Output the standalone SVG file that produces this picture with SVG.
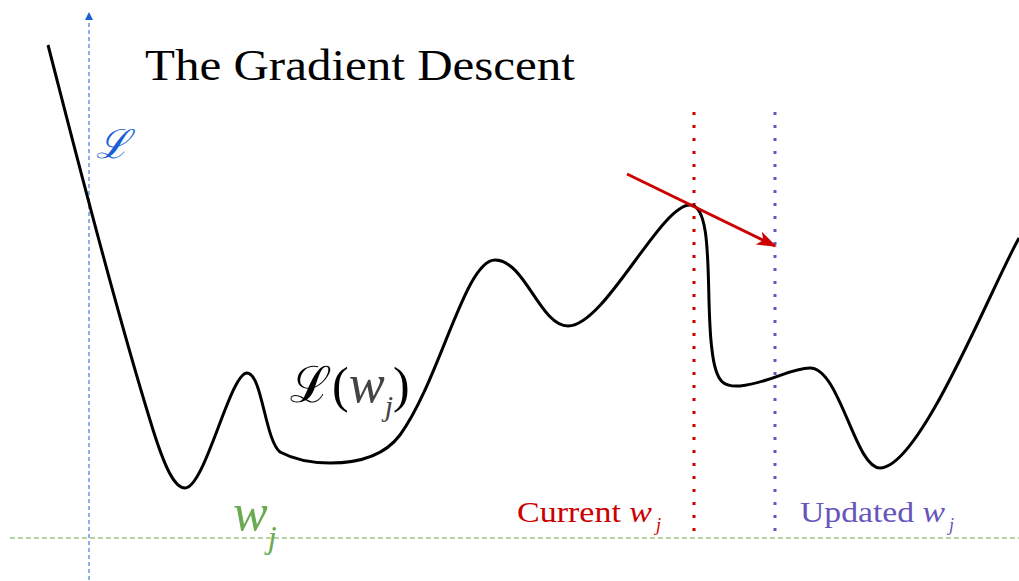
<svg xmlns="http://www.w3.org/2000/svg" width="1019" height="581" viewBox="0 0 1019 581">
<style>
.serif{font-family:"Liberation Serif","DejaVu Serif",serif}
.it{font-style:italic}
</style>
<defs>
<marker id="blueHead" viewBox="0 0 8 8" refX="6" refY="4" markerWidth="8" markerHeight="8" orient="auto" markerUnits="userSpaceOnUse">
<path d="M0,0 L8,4 L0,8 Z" fill="#1a5fd6"/>
</marker>
<marker id="redHead" viewBox="0 0 20 14" refX="18" refY="7" markerWidth="20" markerHeight="14" orient="auto" markerUnits="userSpaceOnUse">
<path d="M0,0 L20,7 L0,14 L5,7 Z" fill="#cc0000"/>
</marker>
</defs>
<rect width="1019" height="581" fill="#fff"/>
<g id="axes">
<line x1="89" y1="580" x2="89" y2="14" stroke="#1a5fd6" stroke-width="1" stroke-dasharray="4,3" marker-end="url(#blueHead)"/>
<line x1="10" y1="538" x2="1019" y2="538" stroke="#6aaa50" stroke-width="1" stroke-dasharray="5,3"/>
</g>
<g id="markers">
<line x1="694" y1="112" x2="694" y2="538" stroke="#cc0000" stroke-width="3" stroke-dasharray="3,10"/>
<line x1="775" y1="112" x2="775" y2="538" stroke="#6655bb" stroke-width="3" stroke-dasharray="3,10"/>
</g>
<g id="curve">
<path d="M48,45 C70,130 110,290 150,420 C165,470 175,488 185,488 C205,488 230,373 247,373 C262,373 265,440 280,452 C295,460 310,463 330,463 C360,463 385,455 400,435 C440,380 465,260 495,260 C525,260 540,326 568,326 C605,326 660,205 690,205 C715,205 705,300 712,350 C716,385 725,387 740,386 C770,383 790,368 810,368 C840,368 855,468 880,468 C920,468 990,290 1019,238" fill="none" stroke="#000" stroke-width="3"/>
</g>
<g id="connectors">
<line x1="627" y1="174" x2="775" y2="246" stroke="#cc0000" stroke-width="3" marker-end="url(#redHead)"/>
</g>
<g id="labels">
<text class="serif" x="145" y="80" font-size="44" fill="#000" textLength="430" lengthAdjust="spacingAndGlyphs">The Gradient Descent</text>
<text class="serif it" x="96" y="158" font-size="40" fill="#1a5fd6">ℒ</text>
<text class="serif" x="290" y="402" font-size="50" fill="#000">ℒ(<tspan class="it" fill="#444" font-size="54">w</tspan><tspan class="it" fill="#444" font-size="30" dy="14">j</tspan><tspan dy="-14">)</tspan></text>
<text class="serif it" x="233" y="530" font-size="52" fill="#6aaa50">w<tspan font-size="32" dy="18">j</tspan></text>
<text class="serif" x="517" y="522" font-size="30" fill="#cc0000" textLength="135" lengthAdjust="spacingAndGlyphs">Current <tspan class="it">w</tspan></text>
<text class="serif it" x="656" y="531" font-size="18" fill="#cc0000">j</text>
<text class="serif" x="800" y="522" font-size="30" fill="#6655bb" textLength="145" lengthAdjust="spacingAndGlyphs">Updated <tspan class="it">w</tspan></text>
<text class="serif it" x="949" y="531" font-size="18" fill="#6655bb">j</text>
</g>
</svg>
